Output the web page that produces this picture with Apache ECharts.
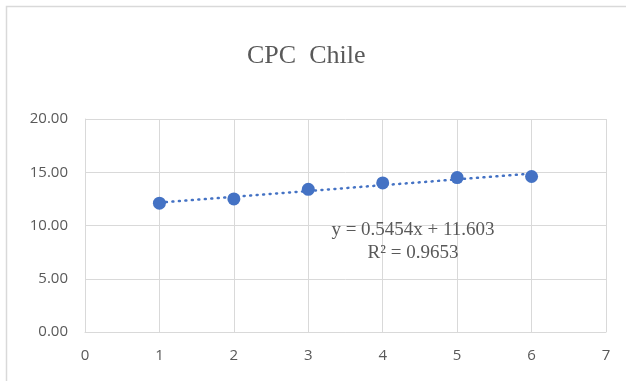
<!DOCTYPE html>
<html>
<head>
<meta charset="utf-8">
<script src="https://cdn.jsdelivr.net/npm/echarts@6/dist/echarts.min.js"></script>
<style>html,body{margin:0;padding:0;background:#fff}#c{width:626px;height:381px}</style>
</head>
<body>
<div id="c"></div>
<script>
var xValues = [1, 2, 3, 4, 5, 6];
var yValues = [12.1, 12.5, 13.4, 14.0, 14.5, 14.6];
var trendSlope = 0.5454;
var trendIntercept = 11.603;
var equationText = 'y = 0.5454x + 11.603';
var r2Text = 'R² = 0.9653';
var titleText = 'CPC  Chile';

var points = xValues.map(function (x, i) { return [x, yValues[i]]; });
var trendX = [xValues[0], xValues[xValues.length - 1]];
var trend = trendX.map(function (x) { return [x, trendSlope * x + trendIntercept]; });

var chart = echarts.init(document.getElementById('c'), null, {renderer: 'canvas'});
var labelFont = '"Open Sans", "Liberation Sans", sans-serif';
var serif = '"Liberation Serif", serif';
chart.setOption({
  animation: false,
  backgroundColor: '#fff',
  title: {
    text: titleText, left: 242, top: 38,
    textStyle: {fontFamily: serif, fontSize: 26, fontWeight: 'normal', color: '#595959'}
  },
  grid: {left: 85, right: 20, top: 119, bottom: 49},
  xAxis: {
    type: 'value', min: 0, max: 7, interval: 1,
    axisLine: {show: true, lineStyle: {color: '#d9d9d9', width: 1}},
    axisTick: {show: false},
    splitLine: {show: true, lineStyle: {color: '#d9d9d9', width: 1}},
    axisLabel: {color: '#595959', fontSize: 15, fontFamily: labelFont, margin: 16}
  },
  yAxis: {
    type: 'value', min: 0, max: 20, interval: 5,
    axisLine: {show: true, lineStyle: {color: '#d9d9d9', width: 1}},
    axisTick: {show: false},
    splitLine: {show: true, lineStyle: {color: '#d9d9d9', width: 1}},
    axisLabel: {color: '#595959', fontSize: 15, fontFamily: labelFont, margin: 17,
      formatter: function (v) { return v.toFixed(2); }}
  },
  series: [
    {
      type: 'line', data: trend, symbol: 'none', silent: true, z: 2,
      lineStyle: {color: '#4472C4', width: 2.5, type: [1, 5.5], cap: 'round'}
    },
    {
      type: 'scatter', data: points, symbol: 'circle', symbolSize: 13, z: 3,
      itemStyle: {color: '#4472C4', opacity: 1}
    }
  ],
  graphic: [
    {type: 'rect', shape: {x: 6.5, y: 6.5, width: 700, height: 500}, silent: true, z: -10,
      style: {fill: 'none', stroke: '#d9d9d9', lineWidth: 1.5}},
    {type: 'text', x: 413, y: 230, z: 20,
      style: {text: equationText, align: 'center', verticalAlign: 'middle', fontFamily: serif, fontSize: 19, fill: '#595959'}},
    {type: 'text', x: 413, y: 253, z: 20,
      style: {text: r2Text, align: 'center', verticalAlign: 'middle', fontFamily: serif, fontSize: 19, fill: '#595959'}}
  ]
});
</script>
</body>
</html>
